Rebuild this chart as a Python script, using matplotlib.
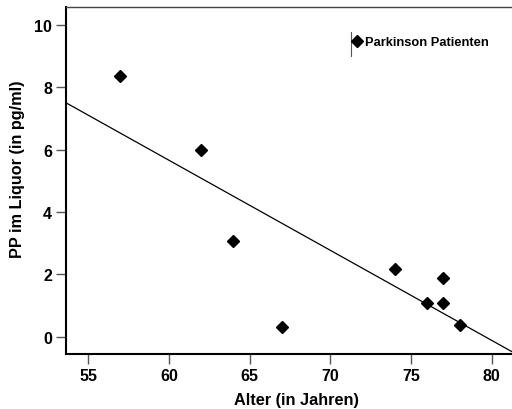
import numpy as np
import matplotlib.pyplot as plt
from matplotlib.lines import Line2D

# Parkinson patients: age vs PP in CSF
alter = [57, 62, 64, 67, 74, 76, 77, 77, 78]
pp = [8.37, 5.99, 3.07, 0.31, 2.17, 1.10, 1.90, 1.10, 0.39]
xticks = [55, 60, 65, 70, 75, 80]
yticks = [0, 2, 4, 6, 8, 10]

plt.rcParams['font.family'] = ['Liberation Sans', 'DejaVu Sans']
plt.rcParams['font.weight'] = 'bold'

fig = plt.figure(figsize=(5.12, 4.10), dpi=100)
ax = fig.add_axes([66 / 512, 1 - 355 / 410, 1 - 66 / 512, 347 / 410])

xmin, xmax = 53.63, 81.25
ax.set_xlim(xmin, xmax)
ax.set_ylim(-0.55, 10.58)

# regression line
m, b = np.polyfit(alter, pp, 1)
xs = np.array([xmin, xmax])
ax.plot(xs, m * xs + b, color='black', lw=0.9)

ax.plot(alter, pp, 'D', color='black', ms=6.3, ls='none')

ax.set_xticks(xticks)
ax.set_yticks(yticks)
ax.set_xticklabels([str(t) for t in xticks], fontsize=11.5, fontweight='bold')
ax.set_yticklabels([str(t) for t in yticks], fontsize=11.5, fontweight='bold')
ax.tick_params(direction='out', length=7, width=1, color='#555555', pad=3)

ax.spines['right'].set_visible(False)
ax.spines['left'].set_linewidth(1.5)
ax.spines['bottom'].set_linewidth(1.5)
ax.spines['top'].set_linewidth(1.0)
ax.spines['top'].set_color('#444444')

ax.set_xlabel('Alter (in Jahren)', fontsize=11.7, fontweight='bold')
ax.set_ylabel('PP im Liquor (in pg/ml)', fontsize=11.7, fontweight='bold')
ax.xaxis.set_label_coords(0.516, -0.1095)
ax.yaxis.set_label_coords(-0.092, 0.536)

# legend
handle = Line2D([], [], marker='D', color='black', ls='none', ms=6)
leg = ax.legend([handle], ['Parkinson Patienten'], loc='center left',
                bbox_to_anchor=(0.6435, 0.899), frameon=False, handlelength=0.6,
                handletextpad=0.3, borderaxespad=0, borderpad=0,
                prop={'size': 9.3, 'weight': 'bold'})
ax.plot([0.640, 0.640], [0.859, 0.928], transform=ax.transAxes, color='#555555', lw=0.8)

fig.savefig('out.png', dpi=100)
